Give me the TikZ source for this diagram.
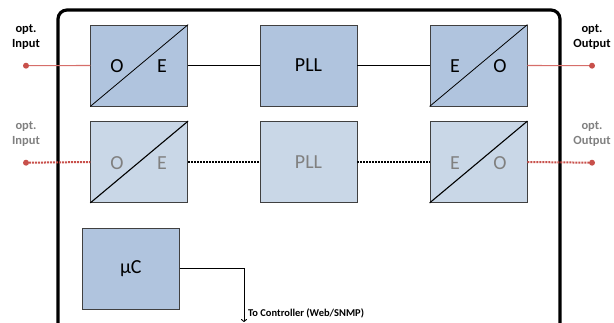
\documentclass[tikz,border=0pt]{standalone}
\usepackage{fontspec}
\setmainfont{Carlito}
\usetikzlibrary{arrows.meta}
\definecolor{boxA}{RGB}{176,196,222}
\definecolor{boxB}{RGB}{201,215,231}
\definecolor{bord}{RGB}{64,64,64}
\definecolor{optred}{RGB}{200,80,75}
\definecolor{optredlt}{RGB}{214,110,106}
\definecolor{fadetxt}{RGB}{128,128,128}
\tikzset{
  blk/.style={draw=bord, line width=0.8bp, fill=boxA, minimum width=97bp, minimum height=81bp, inner sep=0pt, font=\fontsize{20}{22}\selectfont},
  blkfade/.style={blk, fill=boxB, text=fadetxt},
  bigtxt/.style={inner sep=0pt, font=\fontsize{20}{22}\selectfont},
  dot/.style={circle, fill=optred, inner sep=0pt, minimum size=6bp},
  lbl/.style={align=center, font=\bfseries\fontsize{12.5}{15}\selectfont, inner sep=0pt},
  redline/.style={draw=optredlt, line width=1.1bp},
  reddot/.style={draw=optred, line width=2bp, densely dotted},
  blkline/.style={draw=black, line width=0.9bp},
  blkdot/.style={draw=black, line width=2bp, densely dotted},
}
\begin{document}
\begin{tikzpicture}[x=1bp,y=-1bp]
\useasboundingbox (0,0) rectangle (614,322);
% frame
\draw[line width=3.2bp, rounded corners=9bp] (58,10) rectangle (560,332);
% row 1
\node[blk] (oe1) at (139.2,65.5) {};
\node[blk] (pll1) at (308.5,65.5) {PLL};
\node[blk] (eo1) at (478.5,65.5) {};
\draw[line width=0.8bp] (oe1.south west) -- (oe1.north east);
\draw[line width=0.8bp] (eo1.south west) -- (eo1.north east);
\node[bigtxt] (o1) at (117,66) {O};
\node[bigtxt] (e1) at (162,66) {E};
\node[bigtxt] (e1b) at (455,66) {E};
\node[bigtxt] (o1b) at (500,66) {O};
% row 2
\node[blkfade] (oe2) at (139.2,162) {};
\node[blkfade] (pll2) at (308.5,162) {PLL};
\node[blkfade] (eo2) at (478.5,162) {};
\draw[line width=1.1bp] (oe2.south west) -- (oe2.north east);
\draw[line width=1.1bp] (eo2.south west) -- (eo2.north east);
\node[bigtxt, text=fadetxt] (o2) at (117,163) {O};
\node[bigtxt, text=fadetxt] (e2) at (162,163) {E};
\node[bigtxt, text=fadetxt] (e2b) at (455,163) {E};
\node[bigtxt, text=fadetxt] (o2b) at (500,163) {O};
% microcontroller
\node[blk] (mc) at (130.8,268.5) {µC};
% inputs / outputs
\node[dot] (in1) at (26,65.7) {};
\node[dot] (out1) at (592,65.7) {};
\node[dot] (in2) at (26,162.7) {};
\node[dot] (out2) at (592,162.7) {};
\node[lbl] (lin1) at (26,37) {opt.\\Input};
\node[lbl] (lout1) at (592,37) {opt.\\Output};
\node[lbl, text=fadetxt] (lin2) at (26,134) {opt.\\Input};
\node[lbl, text=fadetxt] (lout2) at (592,134) {opt.\\Output};
% connectors
\draw[redline] (in1) -- (oe1.west);
\draw[redline] (eo1.east) -- (out1);
\draw[blkline] (oe1.east) -- (pll1.west);
\draw[blkline] (pll1.east) -- (eo1.west);
\draw[reddot] (in2) -- (oe2.west);
\draw[reddot] (eo2.east) -- (out2);
\draw[blkdot] (oe2.east) -- (pll2.west);
\draw[blkdot] (pll2.east) -- (eo2.west);
\coordinate (ctl) at (244,322);
\draw[line width=0.9bp, -{To[length=3bp,width=6bp]}] (mc.east) -- (mc.east -| ctl) -- (ctl);
\node[anchor=west, inner sep=0pt, font=\bfseries\fontsize{10.5}{12}\selectfont] (ctltxt) at (248,313) {To Controller (Web/SNMP)};
\end{tikzpicture}
\end{document}
